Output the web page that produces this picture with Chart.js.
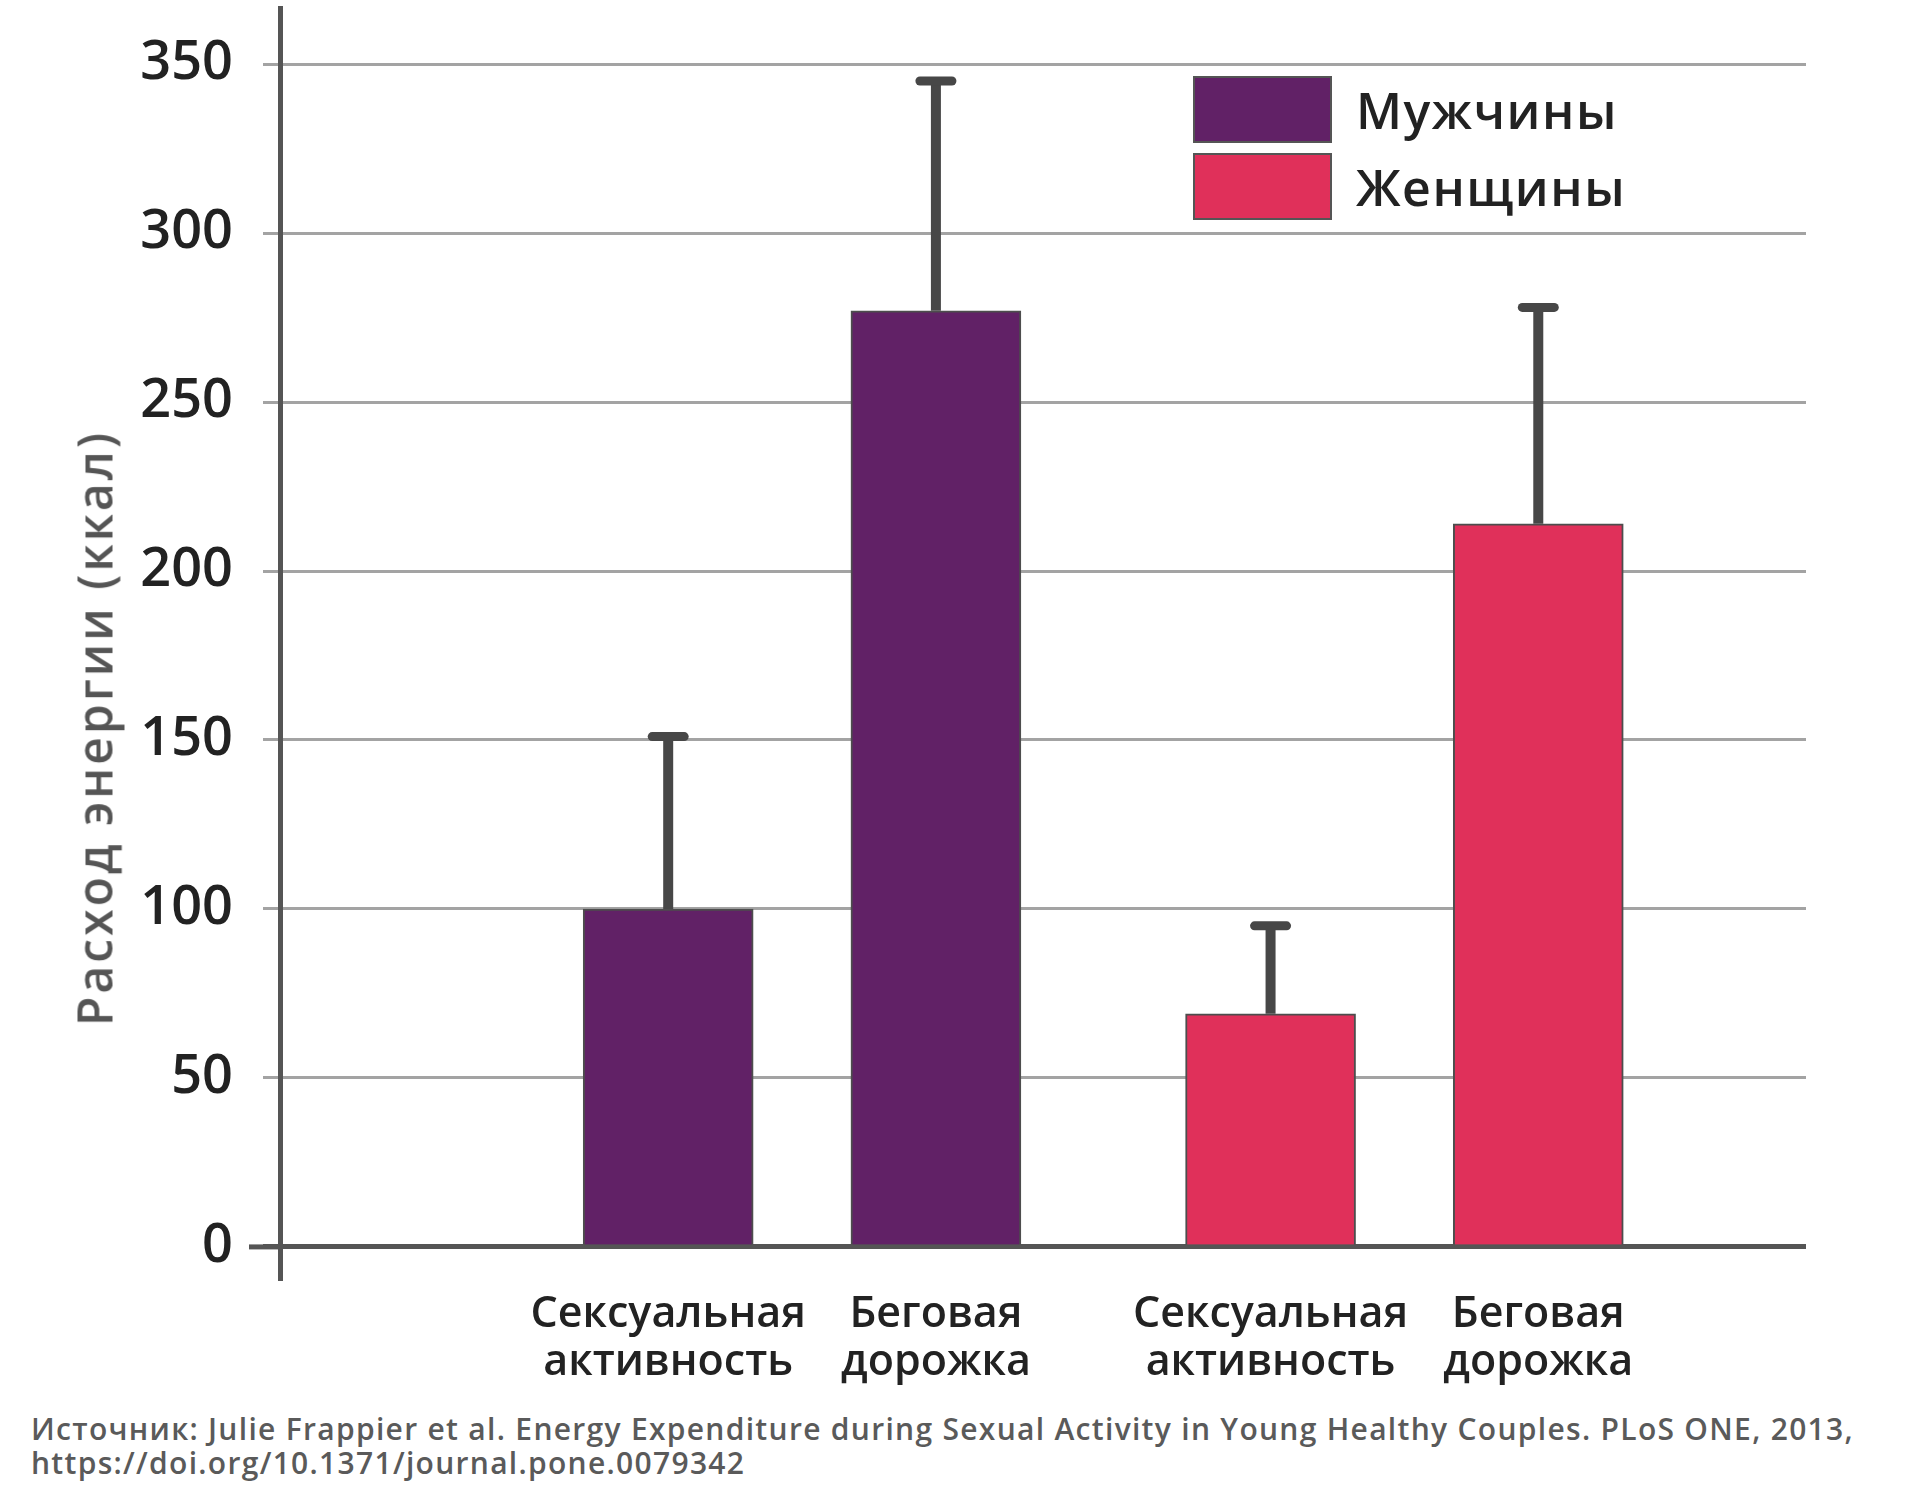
<!DOCTYPE html>
<html lang="ru">
<head>
<meta charset="utf-8">
<script src="https://cdn.jsdelivr.net/npm/chart.js@4/dist/chart.umd.min.js"></script>
<style>
  body { margin: 0; background: #fff; font-family: "Open Sans", sans-serif; }
  #wrap { position: relative; width: 1920px; height: 1500px; }
  #box { position: absolute; left: 0; top: 0; width: 1920px; height: 1400px; }
  #ytitle { position: absolute; left: 94px; top: 728px; transform: translate(-50%, -50%) rotate(-90deg);
    white-space: nowrap; font-size: 48px; letter-spacing: 3px; font-weight: 600; color: #555; }
  .sw { position: absolute; left: 1193px; width: 139px; height: 67px; box-sizing: border-box; border: 2px solid #555; }
  .lt { position: absolute; left: 1356px; font-size: 50px; letter-spacing: 1.5px; font-weight: 600; color: #222; line-height: 1; transform: translateY(-50%); }
  #src { position: absolute; left: 31px; top: 1412px; font-size: 30px; letter-spacing: 1.3px; line-height: 34px; color: #5a5a5a; font-weight: 600; white-space: nowrap; }
</style>
</head>
<body>
<div id="wrap">
  <div id="box"><canvas id="chart"></canvas></div>
  <div id="ytitle"></div>
  <div class="sw" id="sw0" style="top:76px"></div>
  <div class="lt" id="lt0" style="top:110px"></div>
  <div class="sw" id="sw1" style="top:153px"></div>
  <div class="lt" id="lt1" style="top:187px"></div>
  <div id="src"></div>
</div>
<script>
"use strict";

// Energy expenditure (kcal), mean with upper SD whisker, per group.
const CATEGORIES = [["Сексуальная", "активность"], ["Беговая", "дорожка"]];
const GROUPS = ["Мужчины", "Женщины"];
const MEN = [100, 277];
const MEN_SD = [51, 68];
const WOMEN = [69, 214];
const WOMEN_SD = [26, 64];
const Y_TICKS = [0, 50, 100, 150, 200, 250, 300, 350];
const Y_TITLE = "Расход энергии (ккал)";
const SOURCE = ["Источник: Julie Frappier et al. Energy Expenditure during Sexual Activity in Young Healthy Couples. PLoS ONE, 2013,",
  "https://doi.org/10.1371/journal.pone.0079342"];

const COLORS = ["#612166", "#e0305a"];
const GROUP_GAP = 0.25; // extra space between the two groups, in bar slots

const $ = (id) => document.getElementById(id);

// slot index -> x value on the linear axis
const slot = (g, i) => g * (CATEGORIES.length + GROUP_GAP) + i;

const SERIES = [MEN, WOMEN];
const SDS = [MEN_SD, WOMEN_SD];
const xTicks = [];
const xLabels = [];
GROUPS.forEach((_, g) => CATEGORIES.forEach((c, i) => { xTicks.push(slot(g, i)); xLabels.push(c); }));

const datasets = GROUPS.map((name, g) => ({
  label: name,
  data: SERIES[g].map((v, i) => ({ x: slot(g, i), y: v })),
  sd: SDS[g],
  backgroundColor: COLORS[g],
  borderColor: "#4d4d4d",
  borderWidth: 2,
  barThickness: 170,
  grouped: false,
}));

const errorBars = {
  id: "errorBars",
  afterDatasetsDraw(chart) {
    const { ctx, scales: { y }, chartArea } = chart;
    ctx.save();
    // longer baseline stub at zero
    const y0 = y.getPixelForValue(0);
    ctx.strokeStyle = "#555";
    ctx.lineWidth = 5;
    ctx.beginPath();
    ctx.moveTo(chartArea.left - 31, y0);
    ctx.lineTo(chartArea.left, y0);
    ctx.stroke();

    ctx.strokeStyle = "#474747";
    chart.data.datasets.forEach((ds, d) => {
      chart.getDatasetMeta(d).data.forEach((bar, i) => {
        const top = y.getPixelForValue(ds.data[i].y + ds.sd[i]);
        ctx.lineCap = "butt";
        ctx.lineWidth = 10;
        ctx.beginPath();
        ctx.moveTo(bar.x, bar.y);
        ctx.lineTo(bar.x, top);
        ctx.stroke();
        ctx.lineCap = "round";
        ctx.lineWidth = 9;
        ctx.beginPath();
        ctx.moveTo(bar.x - 16, top);
        ctx.lineTo(bar.x + 16, top);
        ctx.stroke();
      });
    });
    ctx.restore();
  },
};

new Chart($("chart"), {
  type: "bar",
  data: { datasets },
  options: {
    responsive: true,
    maintainAspectRatio: false,
    animation: false,
    layout: { padding: { top: 8, right: 114, left: 0, bottom: 0 } },
    plugins: { legend: { display: false }, tooltip: { enabled: false } },
    scales: {
      x: {
        type: "linear",
        offset: false,
        min: -1.45,
        max: 4.25,
        afterBuildTicks: (s) => { s.ticks = xTicks.map((v) => ({ value: v })); },
        afterFit: (s) => { s.height = 122; s.paddingLeft = 0; s.paddingRight = 0; },
        grid: { display: false },
        border: { display: false },
        ticks: {
          autoSkip: false,
          maxRotation: 0,
          padding: 5,
          color: "#222",
          font: { family: "Open Sans", size: 43, weight: "600", lineHeight: 1.12 },
          callback: (v, i) => xLabels[i],
        },
      },
      y: {
        min: -9.2,
        max: 366.6,
        afterBuildTicks: (s) => { s.ticks = Y_TICKS.map((v) => ({ value: v })); },
        afterFit: (s) => { s.width = 280; s.paddingTop = 0; s.paddingBottom = 0; },
        border: { display: true, color: "#555", width: 5 },
        grid: {
          color: (c) => (c.tick && c.tick.value === 0 ? "#555" : "#a3a3a3"),
          lineWidth: (c) => (c.tick && c.tick.value === 0 ? 5 : 3),
          tickLength: 17,
        },
        ticks: {
          padding: 30,
          color: "#222",
          font: { family: "Open Sans", size: 54, weight: "600" },
        },
      },
    },
  },
  plugins: [errorBars],
});

$("ytitle").textContent = Y_TITLE;
GROUPS.forEach((g, i) => {
  $("sw" + i).style.background = COLORS[i];
  $("lt" + i).textContent = g;
});
$("src").innerHTML = SOURCE.join("<br>");
</script>
</body>
</html>
